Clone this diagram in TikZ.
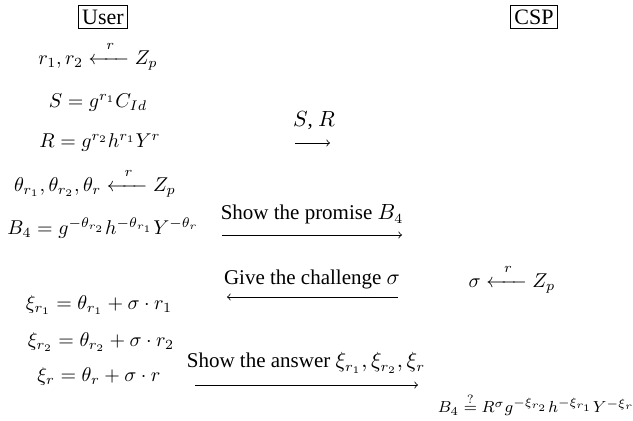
\documentclass[tikz,border=0pt]{standalone}
\usepackage{amsmath}
\usepackage{fontspec}
\setmainfont{Liberation Serif}
\newcommand{\rnd}{\xleftarrow{\hspace{0.5em}\raisebox{2pt}{$\scriptstyle r$}\hspace{0.5em}}}
\begin{document}
\begin{tikzpicture}[x=0.5pt,y=-0.5pt,
    party/.style={draw,inner sep=2pt,font=\fontsize{11}{13}\selectfont},
    eqn/.style={anchor=base},
    msg/.style={anchor=base,font=\fontsize{10.5}{12}\selectfont}]
\useasboundingbox (0,0) rectangle (633,421);
\node [party] (user) at (103,17) {User};
\node [party] (csp) at (534,17) {CSP};
% user side
\node [eqn] (u1) at (98,65) {$r_1, r_2 \rnd Z_p$};
\node [eqn] (u2) at (98,108) {$S = g^{r_1}C_{Id}$};
\node [eqn] (u3) at (100,148) {$R = g^{r_2}h^{r_1}Y^{r}$};
\node [eqn] (u4) at (95,192) {$\theta_{r_1}, \theta_{r_2}, \theta_r \rnd Z_p$};
\node [eqn] (u5) at (103,235) {$B_4 = g^{-\theta_{r_2}}h^{-\theta_{r_1}}Y^{-\theta_r}$};
\node [eqn] (u6) at (99,310) {$\xi_{r_1} = \theta_{r_1} + \sigma\cdot r_1$};
\node [eqn] (u7) at (101,347) {$\xi_{r_2} = \theta_{r_2} + \sigma\cdot r_2$};
\node [eqn] (u8) at (99,382) {$\xi_r = \theta_r + \sigma\cdot r$};
% csp side
\node [eqn] (c1) at (512,288) {$\sigma \rnd Z_p$};
\node [eqn,font=\fontsize{8.5}{10}\selectfont] (c2) at (536,413) {$B_4 \stackrel{?}{=} R^{\sigma}g^{-\xi_{r_2}}h^{-\xi_{r_1}}Y^{-\xi_r}$};
% messages
\coordinate (m1a) at (295,143); \coordinate (m1b) at (330,143);
\coordinate (m2a) at (222,235); \coordinate (m2b) at (402,235);
\coordinate (m3a) at (227,297); \coordinate (m3b) at (398,297);
\coordinate (m4a) at (195,385); \coordinate (m4b) at (418,385);
\node [msg] (l1) at (314,127) {$S$, $R$};
\node [msg] (l2) at (312,220) {Show the promise $B_4$};
\node [msg] (l3) at (312,285) {Give the challenge $\sigma$};
\node [msg] (l4) at (306,368) {Show the answer $\xi_{r_1}, \xi_{r_2}, \xi_r$};
\draw [->] (m1a) -- (m1b);
\draw [->] (m2a) -- (m2b);
\draw [<-] (m3a) -- (m3b);
\draw [->] (m4a) -- (m4b);
\end{tikzpicture}
\end{document}
